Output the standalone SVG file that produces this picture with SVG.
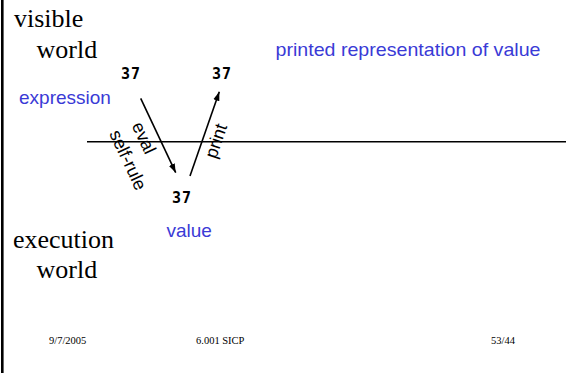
<svg xmlns="http://www.w3.org/2000/svg" width="566" height="373" viewBox="0 0 566 373">
<defs>
<style>
.serif{font-family:"Liberation Serif","Times New Roman",serif;fill:#000}
.big{font-size:26px}
.foot{font-size:10.5px}
.blue{font-family:"Liberation Sans",Arial,sans-serif;font-size:19px;fill:#3a3ad6}
.num{font-family:"DejaVu Sans Mono","Liberation Mono",monospace;font-weight:bold;font-size:15px;fill:#000}
.lab{font-family:"Liberation Sans",Arial,sans-serif;font-size:18px;fill:#000}
.ln{stroke:#000;stroke-width:1.6;fill:none}
</style>
<marker id="ah" viewBox="0 0 10 10" refX="10" refY="5" markerWidth="9" markerHeight="9" markerUnits="userSpaceOnUse" orient="auto">
<path d="M0,1.5 L10,5 L0,8.5 Z" fill="#000"/>
</marker>
</defs>
<rect width="566" height="373" fill="#fff"/>
<line x1="2.3" y1="0" x2="2.3" y2="373" stroke="#000" stroke-width="2.6"/>
<g id="boundary"><line class="ln" x1="87" y1="141.7" x2="566" y2="141.7"/></g>
<g id="visible-world">
<text class="serif big" x="14" y="27">visible</text>
<text class="serif big" x="36.5" y="58">world</text>
</g>
<g id="execution-world">
<text class="serif big" x="13" y="248">execution</text>
<text class="serif big" x="36.5" y="278">world</text>
</g>
<g id="expression">
<text class="num" x="121" y="79" letter-spacing="1">37</text>
<text class="blue" x="19" y="104">expression</text>
</g>
<g id="printed">
<text class="num" x="212" y="79" letter-spacing="1">37</text>
<text class="blue" x="275.5" y="56" textLength="265" lengthAdjust="spacingAndGlyphs">printed representation of value</text>
</g>
<g id="value">
<text class="num" x="172" y="203" letter-spacing="1">37</text>
<text class="blue" x="166.5" y="237">value</text>
</g>
<g id="connectors">
<line class="ln" x1="140.7" y1="98.3" x2="175.7" y2="172.7" marker-end="url(#ah)"/>
<line class="ln" x1="190" y1="176" x2="219.3" y2="91.7" marker-end="url(#ah)"/>
<text class="lab" text-anchor="middle" transform="translate(144,138) rotate(65)" y="6">eval</text>
<text class="lab" text-anchor="middle" transform="translate(128,160) rotate(65)" y="6">self-rule</text>
<text class="lab" text-anchor="middle" transform="translate(216,141) rotate(-71)" y="6">print</text>
</g>
<g id="footer">
<text class="serif foot" x="49" y="344">9/7/2005</text>
<text class="serif foot" x="196" y="344">6.001 SICP</text>
<text class="serif foot" x="491" y="344">53/44</text>
</g>
</svg>
